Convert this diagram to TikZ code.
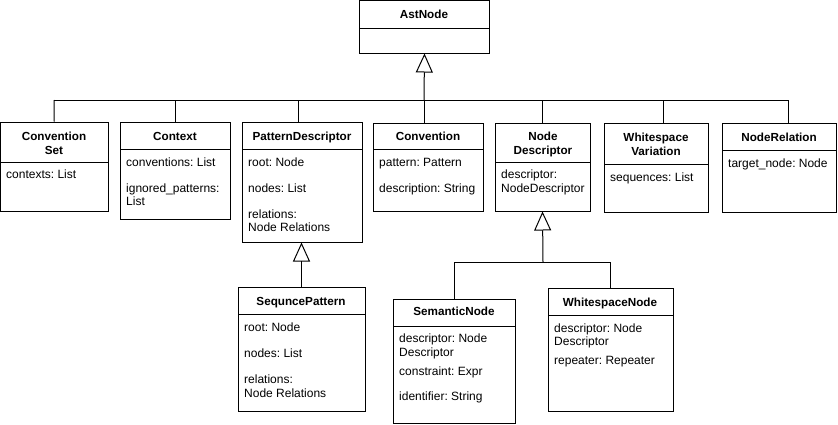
\documentclass[tikz,border=0pt]{standalone}
\usepackage{fontspec}
\setmainfont{Liberation Sans}
\usetikzlibrary{fit,arrows.meta}
\frenchspacing
\newcommand\umlcls[6]{%
  \node[fit={(#2,#3)(#4,#5)}, draw, inner sep=0pt, line width=1pt] (#1) {};
  \draw[line width=1pt] (#2,#6) -- (#4,#6);}
\begin{document}
\begin{tikzpicture}[x=1pt,y=-1pt,
  font=\fontsize{12}{14}\selectfont\frenchspacing,
  txt/.style={anchor=base west, inner sep=0pt},
  hdr/.style={anchor=base, inner sep=0pt, font=\fontsize{11.7}{14}\selectfont\bfseries},
  conn/.style={line width=1pt},
  gen/.style={line width=1pt, -{Triangle[open, length=19pt, width=17pt, line width=1pt]}}]
\useasboundingbox (0,0) rectangle (838,424);

% classes
\umlcls{ast}{359.5}{0.5}{489.5}{53}{28}
\umlcls{cs}{0.5}{122}{108}{211}{162}
\umlcls{ctx}{120}{122}{230}{219}{149}
\umlcls{pd}{242}{122}{362}{242}{149}
\umlcls{conv}{373}{123}{483}{211}{149}
\umlcls{nd}{495}{123}{590}{211}{162}
\umlcls{wv}{604}{123}{708}{212}{164}
\umlcls{nr}{722}{123}{836}{212}{150}
\umlcls{sp}{238}{287}{365}{411}{314}
\umlcls{sn}{393}{299}{515}{423}{326}
\umlcls{wn}{548}{288}{673}{411}{315}

% texts
\node[hdr] (t-ast) at (424,18.5) {AstNode};

\node[hdr] (t-cs1) at (54,140.5) {Convention};
\node[hdr] (t-cs2) at (54,154.5) {Set};
\node[txt] (a-cs1) at (6,178.5) {contexts: List};

\node[hdr] (t-ctx) at (175,140.5) {Context};
\node[txt] (a-ctx1) at (126,166.5) {conventions: List};
\node[txt] (a-ctx2) at (126,192.5) {ignored\_patterns:};
\node[txt] (a-ctx3) at (126,205.5) {List};

\node[hdr] (t-pd) at (302,140.5) {PatternDescriptor};
\node[txt] (a-pd1) at (248,166.5) {root: Node};
\node[txt] (a-pd2) at (248,192.5) {nodes: List};
\node[txt] (a-pd3) at (248,218.5) {relations:};
\node[txt] (a-pd4) at (248,231.5) {Node Relations};

\node[hdr] (t-conv) at (428,140.5) {Convention};
\node[txt] (a-conv1) at (379,166.5) {pattern: Pattern};
\node[txt] (a-conv2) at (379,192.5) {description: String};

\node[hdr] (t-nd1) at (543,140.5) {Node};
\node[hdr] (t-nd2) at (543,154.5) {Descriptor};
\node[txt] (a-nd1) at (501,178.5) {descriptor:};
\node[txt] (a-nd2) at (501,192.5) {NodeDescriptor};

\node[hdr] (t-wv1) at (656,141.5) {Whitespace};
\node[hdr] (t-wv2) at (656,155.5) {Variation};
\node[txt] (a-wv1) at (610,181.5) {sequences: List};

\node[hdr] (t-nr) at (779,141.5) {NodeRelation};
\node[txt] (a-nr1) at (728,167.5) {target\_node: Node};

\node[hdr] (t-sp) at (301,305.5) {SequncePattern};
\node[txt] (a-sp1) at (244,331.5) {root: Node};
\node[txt] (a-sp2) at (244,357.5) {nodes: List};
\node[txt] (a-sp3) at (244,383.5) {relations:};
\node[txt] (a-sp4) at (244,397.5) {Node Relations};

\node[hdr] (t-sn) at (454,315.5) {SemanticNode};
\node[txt] (a-sn1) at (399,342.5) {descriptor: Node};
\node[txt] (a-sn2) at (399,356.5) {Descriptor};
\node[txt] (a-sn3) at (399,375.5) {constraint: Expr};
\node[txt] (a-sn4) at (399,400.5) {identifier: String};

\node[hdr] (t-wn) at (610,306.5) {WhitespaceNode};
\node[txt] (a-wn1) at (554,332.5) {descriptor: Node};
\node[txt] (a-wn2) at (554,345.5) {Descriptor};
\node[txt] (a-wn3) at (554,364.5) {repeater: Repeater};

% top-level generalisation
\coordinate (b1) at (424,100);
\coordinate (busL) at (54,100);
\coordinate (busR) at (788,100);
\draw[gen] (b1) -- (ast.south);
\draw[conn] (busL) -- (busR);
\draw[conn] (busL) -- (cs.north);
\draw[conn] (ctx.north |- b1) -- (ctx.north);
\draw[conn] ([xshift=-4pt]pd.north |- b1) -- ([xshift=-4pt]pd.north);
\draw[conn] ([xshift=-4pt]conv.north |- b1) -- ([xshift=-4pt]conv.north);
\draw[conn] (nd.north |- b1) -- (nd.north);
\draw[conn] ([xshift=7pt]wv.north |- b1) -- ([xshift=7pt]wv.north);
\draw[conn] (busR) -- (busR |- nr.north);

% second level
\draw[gen] (sp.north) -- (sp.north |- pd.south);
\coordinate (b2) at (543,262);
\draw[gen] (b2) -- (nd.south);
\draw[conn] (sn.north) |- (wn.north |- b2) -- (wn.north);
\end{tikzpicture}
\end{document}
